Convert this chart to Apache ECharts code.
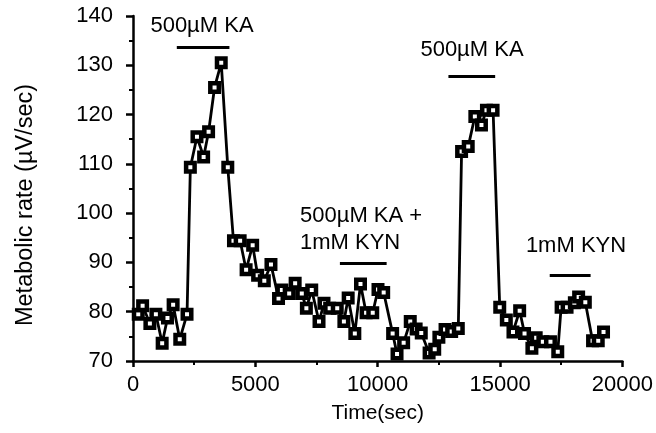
<!DOCTYPE html>
<html><head><meta charset="utf-8">
<script src="https://cdn.jsdelivr.net/npm/echarts@6/dist/echarts.min.js"></script>
<style>html,body{margin:0;padding:0;background:#fff}#c{width:656px;height:433px}</style>
</head><body><div id="c"></div><script>
// Time (sec) of each measurement
const timeSec = [215,393,690,935,1192,1409,1640,1911,2208,2344,2614,2886,3089,3333,3606,3874,4106,4378,4622,4890,5093,5366,5638,5947,6085,6382,6626,6898,7085,7304,7602,7805,8036,8346,8618,8793,9065,9297,9525,9797,10012,10244,10610,10790,11060,11330,11570,11780,12100,12330,12500,12752,13022,13293,13428,13699,13970,14240,14444,14715,14987,15256,15528,15801,16000,16301,16476,16748,17060,17358,17495,17738,18036,18211,18484,18780,19012,19228];
// Metabolic rate (µV/sec)
const rate = [79.5,81.2,77.6,79.5,73.6,78.7,81.4,74.4,79.5,109.3,115.5,111.4,116.5,125.5,130.5,109.3,94.4,94.4,88.5,93.5,87.4,86.3,89.6,82.7,84.4,83.7,85.8,83.7,80.7,84.4,78.0,81.7,80.7,80.7,78.0,82.8,75.6,85.6,79.8,79.8,84.5,83.9,75.6,71.4,73.7,78.0,76.5,75.7,71.6,72.4,74.8,76.4,76.0,76.6,112.5,113.5,119.6,117.9,120.9,120.9,80.9,78.3,75.9,80.2,75.6,72.6,74.7,73.9,73.9,71.9,80.9,80.9,81.8,83.0,81.9,74.1,74.1,75.9];
// Treatment bars: start, end, level (data units)
const barStart = [1790, 12890, 8455, 17030];
const barEnd   = [3940, 14800, 10365, 18700];
const barLevel = [133.7, 127.8, 89.9, 87.4];
const xTickValues = [0,5000,10000,15000,20000];
const yTickValues = [70,80,90,100,110,120,130,140];

const FONT = 'Liberation Sans';
const chart = echarts.init(document.getElementById('c'));
const pts = timeSec.map((t,i)=>[t, rate[i]]);
const markData = barStart.map((s,i)=>[{coord:[s,barLevel[i]]},{coord:[barEnd[i],barLevel[i]]}]);
const txt = {fontFamily:FONT, fontSize:22, fill:'#000'};
chart.setOption({
  animation:false,
  backgroundColor:'#fff',
  grid:{left:133, right:30, top:16, bottom:72},
  xAxis:{type:'value', min:xTickValues[0], max:xTickValues[xTickValues.length-1], interval:5000,
    name:'Time(sec)', nameLocation:'middle', nameGap:42,
    nameTextStyle:{fontFamily:FONT, fontSize:21, color:'#000'},
    axisLine:{lineStyle:{color:'#000', width:2.5}},
    axisTick:{inside:false, length:6, lineStyle:{color:'#000', width:2.5}},
    minorTick:{show:true, splitNumber:2, length:4, lineStyle:{color:'#000', width:2}},
    axisLabel:{fontFamily:FONT, fontSize:22, color:'#000', margin:13, formatter:v=>String(v)},
    splitLine:{show:false}},
  yAxis:{type:'value', min:yTickValues[0], max:yTickValues[yTickValues.length-1], interval:10,
    axisLine:{show:true, lineStyle:{color:'#000', width:2.5}},
    axisTick:{show:true, inside:false, length:7, lineStyle:{color:'#000', width:2.5}},
    minorTick:{show:true, splitNumber:2, length:4, lineStyle:{color:'#000', width:2}},
    axisLabel:{fontFamily:FONT, fontSize:22, color:'#000', margin:20, formatter:v=>String(v)},
    splitLine:{show:false}},
  graphic:[
    {type:'text', x:26, y:205, rotation:Math.PI/2, style:Object.assign({text:'Metabolic rate (µV/sec)', align:'center', verticalAlign:'middle'}, txt, {fontSize:23.5})},
    {type:'text', x:202, y:26, style:Object.assign({text:'500µM KA', align:'center', verticalAlign:'middle'}, txt)},
    {type:'text', x:472, y:50, style:Object.assign({text:'500µM KA', align:'center', verticalAlign:'middle'}, txt)},
    {type:'text', x:300, y:216, style:Object.assign({text:'500µM KA +', align:'left', verticalAlign:'middle'}, txt)},
    {type:'text', x:300, y:243, style:Object.assign({text:'1mM KYN', align:'left', verticalAlign:'middle'}, txt)},
    {type:'text', x:576, y:246, style:Object.assign({text:'1mM KYN', align:'center', verticalAlign:'middle'}, txt)}
  ],
  series:[{
    type:'line', data:pts, symbol:'rect', symbolSize:8.5,
    lineStyle:{color:'#000', width:2.8},
    itemStyle:{color:'#fff', borderColor:'#000', borderWidth:4.5},
    markLine:{silent:true, symbol:['none','none'], label:{show:false},
      lineStyle:{color:'#000', width:2.8, type:'solid'}, data:markData}
  }]
});
</script></body></html>
